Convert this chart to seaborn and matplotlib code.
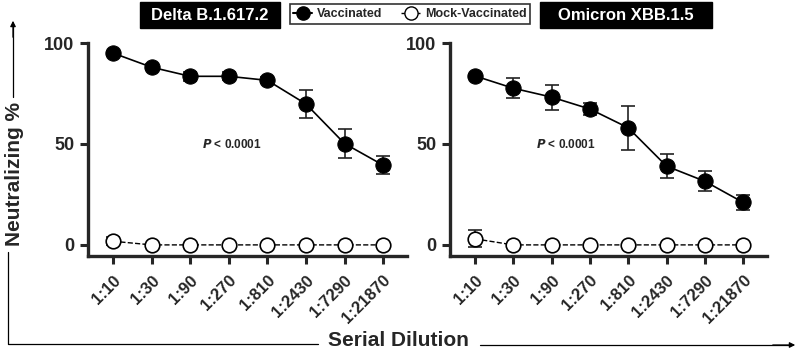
import matplotlib
matplotlib.use("Agg")
import matplotlib.pyplot as plt
import matplotlib.patches as mpatches
from matplotlib.lines import Line2D
import numpy as np
import pandas as pd
import seaborn as sns

dilutions = ["1:10", "1:30", "1:90", "1:270", "1:810", "1:2430", "1:7290", "1:21870"]

delta_vacc = [95, 88, 83.5, 83.5, 81.5, 69.8, 50.2, 39.5]
delta_vacc_err = [1.2, 1.5, 2.2, 2.0, 1.5, 6.8, 7.2, 4.3]
delta_mock = [1.8, 0, 0, 0, 0, 0, 0, 0]
delta_mock_err = [2.0, 0, 0, 0, 0, 0, 0, 0]

omi_vacc = [83.7, 77.6, 73.2, 67.3, 58.0, 39.0, 31.5, 21.0]
omi_vacc_err = [1.0, 5.0, 6.2, 3.0, 10.8, 5.8, 5.0, 3.8]
omi_mock = [3.0, 0, 0, 0, 0, 0, 0, 0]
omi_mock_err = [4.2, 0, 0, 0, 0, 0, 0, 0]

titles = ["Delta B.1.617.2", "Omicron XBB.1.5"]
p_text = "< 0.0001"

sns.set_style("ticks")
plt.rcParams["font.family"] = ["Liberation Sans", "DejaVu Sans"]
plt.rcParams["font.weight"] = "bold"

fig = plt.figure(figsize=(8, 3.52), dpi=100, facecolor="w")
W, H = 800, 352


def fx(px):
    return px / W


def fy(py):
    return 1 - py / H


ax_boxes = [(88, 407), (450, 767)]
top_px, bot_px = 43, 256

panels = [
    (delta_vacc, delta_vacc_err, delta_mock, delta_mock_err),
    (omi_vacc, omi_vacc_err, omi_mock, omi_mock_err),
]

for (x0, x1), (vacc, verr, mock, merr), p_x in zip(ax_boxes, panels, [232, 566]):
    ax = fig.add_axes([fx(x0), fy(bot_px), (x1 - x0) / W, (bot_px - top_px) / H])
    idx = np.arange(len(dilutions))
    df = pd.DataFrame({"pos": np.concatenate([idx, idx]),
                       "val": np.concatenate([mock, vacc]),
                       "group": ["Mock"] * len(idx) + ["Vacc"] * len(idx)})
    # error bars first
    ax.errorbar(idx, vacc, yerr=verr, fmt="none", ecolor="#222222",
                elinewidth=1.2, capsize=5, capthick=1.2, zorder=2)
    ax.errorbar(idx, mock, yerr=merr, fmt="none", ecolor="#222222",
                elinewidth=1.2, capsize=5, capthick=1.2, zorder=2)
    sns.lineplot(data=df[df.group == "Mock"], x="pos", y="val", ax=ax,
                 color="black", linestyle="--", linewidth=1, marker="o",
                 markersize=10.5, markerfacecolor="white", markeredgecolor="black",
                 markeredgewidth=1.2, zorder=3)
    sns.lineplot(data=df[df.group == "Vacc"], x="pos", y="val", ax=ax,
                 color="black", linewidth=1.2, marker="o", markersize=11,
                 markerfacecolor="black", markeredgecolor="black", zorder=4)
    ax.set_xlim(-0.65, 7.62)
    ax.set_ylim(-5.5, 100)
    ax.set_yticks([0, 50, 100])
    ax.set_xticks(idx)
    ax.set_xticklabels(dilutions, rotation=45, ha="right", rotation_mode="anchor")
    ax.tick_params(axis="y", labelsize=13, width=2.2, length=6, pad=4)
    ax.tick_params(axis="x", labelsize=12, width=2.2, length=6, pad=6)
    plt.setp(ax.get_xticklabels() + ax.get_yticklabels(), fontweight="heavy")
    ax.set_xlabel("")
    ax.set_ylabel("")
    for s in ["left", "bottom"]:
        ax.spines[s].set_linewidth(2.4)
    sns.despine(ax=ax)
    ax.patch.set_alpha(0)
    ax.text((p_x - x0) / (x1 - x0), (bot_px - 144) / (bot_px - top_px),
            "$\\bf{\\it{P}}$ " + p_text, transform=ax.transAxes, ha="center", va="center",
            fontsize=8.5, fontweight="bold")

# title boxes
for (bx0, bx1), t in zip([(140, 280), (540, 712)], titles):
    fig.patches.append(mpatches.Rectangle((fx(bx0), fy(28)), (bx1 - bx0) / W, 26 / H,
                                          transform=fig.transFigure, facecolor="black",
                                          edgecolor="black", zorder=5))
    fig.text(fx((bx0 + bx1) / 2), fy(15), t, color="white", fontsize=12,
             fontweight="bold", ha="center", va="center", zorder=6)

# legend
handles = [
    Line2D([], [], color="black", linestyle="-", linewidth=1.5, marker="o",
           markersize=9.5, markerfacecolor="black", markeredgecolor="black"),
    Line2D([], [], color="black", linestyle="--", linewidth=1, marker="o",
           markersize=9.5, markerfacecolor="white", markeredgecolor="black"),
]
leg = fig.legend(handles, ["Vaccinated", "Mock-Vaccinated"], loc="center",
                 bbox_to_anchor=(fx(410), fy(14)), ncol=2, frameon=True,
                 fancybox=False, edgecolor="black", fontsize=9, handlelength=1.5,
                 columnspacing=1.5, handletextpad=0.4, borderpad=0.3)
leg.get_frame().set_linewidth(1.2)
for t in leg.get_texts():
    t.set_fontweight("bold")

# axis titles with arrows
fig.text(fx(15), fy(174), "Neutralizing %", rotation=90, ha="center", va="center",
         fontsize=15, fontweight="bold")
fig.text(fx(398), fy(341), "Serial Dilution", ha="center", va="center",
         fontsize=15, fontweight="bold")

fig.add_artist(Line2D([fx(13), fx(13)], [fy(97), fy(24)], color="black", lw=0.9))
fig.add_artist(mpatches.FancyArrowPatch((fx(13), fy(40)), (fx(13), fy(18)),
                                        transform=fig.transFigure, arrowstyle="-|>",
                                        mutation_scale=8, color="black", lw=0.9))
fig.add_artist(Line2D([fx(8), fx(8), fx(318)], [fy(252), fy(344), fy(344)],
                      color="black", lw=0.9))
fig.add_artist(Line2D([fx(480), fx(790)], [fy(345), fy(345)], color="black", lw=0.9))
fig.add_artist(mpatches.FancyArrowPatch((fx(770), fy(345)), (fx(798), fy(345)),
                                        transform=fig.transFigure, arrowstyle="-|>",
                                        mutation_scale=8, color="black", lw=0.9))

fig.savefig("out.png", dpi=100, facecolor="w")
